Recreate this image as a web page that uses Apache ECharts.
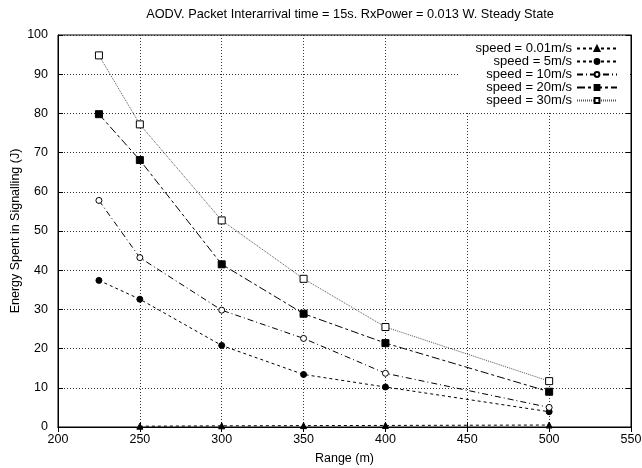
<!DOCTYPE html>
<html>
<head>
<meta charset="utf-8">
<script src="https://cdn.jsdelivr.net/npm/echarts@6/dist/echarts.min.js"></script>
<style>
html,body{margin:0;padding:0;background:#fff;}
#c{width:642px;height:468px;}
</style>
</head>
<body>
<div id="c"></div>
<script>
const titleText = 'AODV. Packet Interarrival time = 15s. RxPower = 0.013 W. Steady State';
const xName = 'Range (m)';
const yName = 'Energy Spent in Signalling (J)';
const ranges = [225, 250, 300, 350, 400, 500];
const seriesNames = ['speed = 0.01m/s', 'speed = 5m/s', 'speed = 10m/s', 'speed = 20m/s', 'speed = 30m/s'];
const speed001 = [null, 0.2, 0.3, 0.35, 0.4, 0.5];
const speed5 = [37.4, 32.6, 20.8, 13.4, 10.2, 3.9];
const speed10 = [57.8, 43.2, 29.8, 22.6, 13.7, 5.0];
const speed20 = [79.8, 68.1, 41.5, 28.9, 21.4, 9.0];
const speed30 = [94.8, 77.2, 52.7, 37.8, 25.5, 11.7];
const xTicks = {min: 200, max: 550, interval: 50};
const yTicks = {min: 0, max: 100, interval: 10};

const values = [speed001, speed5, speed10, speed20, speed30];
const styles = [
  {symbol: 'triangle', size: 6, dash: [3, 3], color: '#000', fill: '#000'},
  {symbol: 'circle', size: 6, dash: [3, 3], color: '#000', fill: '#000'},
  {symbol: 'circle', size: 6, dash: [6, 3, 1, 3], color: '#000', fill: '#fff'},
  {symbol: 'rect', size: 7, dash: [8, 3, 3, 3], color: '#000', fill: '#000'},
  {symbol: 'rect', size: 7, dash: [1, 1], color: '#555', fill: '#fff'}
];

const font = 'Liberation Sans, Arial, Helvetica, sans-serif';
const chart = echarts.init(document.getElementById('c'));
const series = values.map((vals, i) => ({
  name: seriesNames[i],
  type: 'line',
  data: ranges.map((x, j) => vals[j] == null ? [x, '-'] : [x, vals[j]]),
  symbol: styles[i].symbol,
  symbolSize: styles[i].size,
  showAllSymbol: true,
  connectNulls: false,
  lineStyle: {color: styles[i].color, width: 1, type: styles[i].dash},
  itemStyle: {color: styles[i].fill, borderColor: '#000', borderWidth: 1},
  emphasis: {disabled: true},
  animation: false,
  z: 3
}));

const tickStyle = {inside: true, length: 5, lineStyle: {color: '#000', width: 1}};
chart.setOption({
  animation: false,
  backgroundColor: '#fff',
  title: {
    text: titleText,
    left: 345, top: 3, textAlign: 'center',
    textStyle: {fontFamily: font, fontSize: 12.75, fontWeight: 'normal', color: '#000'}
  },
  legend: {
    orient: 'vertical',
    right: 12, top: 38,
    align: 'right',
    backgroundColor: '#fff',
    padding: [4, 12, 4, 16],
    itemWidth: 40, itemHeight: 6, itemGap: 0,
    textStyle: {fontFamily: font, fontSize: 13, color: '#000', lineHeight: 12.5},
    data: seriesNames
  },
  grid: {left: 58, right: 11, top: 35, bottom: 41, show: true, borderColor: '#000', borderWidth: 1, backgroundColor: 'transparent', outerBoundsMode: 'none', containLabel: false},
  xAxis: [{
    type: 'value', min: xTicks.min, max: xTicks.max, interval: xTicks.interval,
    name: xName, nameLocation: 'middle', nameGap: 25, nameMoveOverlap: false,
    nameTextStyle: {fontFamily: font, fontSize: 12.5, color: '#000'},
    axisLine: {show: true, lineStyle: {color: '#000'}},
    axisTick: tickStyle,
    axisLabel: {fontFamily: font, fontSize: 12.5, color: '#000', margin: 6},
    splitLine: {show: true, lineStyle: {color: '#333', width: 1, type: [1, 2]}}
  }, {
    type: 'value', position: 'top', min: xTicks.min, max: xTicks.max, interval: xTicks.interval,
    axisLine: {show: true, lineStyle: {color: '#000'}},
    axisTick: tickStyle, axisLabel: {show: false}, splitLine: {show: false}
  }],
  yAxis: [{
    type: 'value', min: yTicks.min, max: yTicks.max, interval: yTicks.interval,
    name: yName, nameLocation: 'middle', nameGap: 36, nameMoveOverlap: false,
    nameTextStyle: {fontFamily: font, fontSize: 12.5, color: '#000'},
    axisLine: {show: true, lineStyle: {color: '#000'}},
    axisTick: tickStyle,
    axisLabel: {fontFamily: font, fontSize: 12.5, color: '#000', margin: 10},
    splitLine: {show: true, lineStyle: {color: '#333', width: 1, type: [1, 2]}}
  }, {
    type: 'value', position: 'right', min: yTicks.min, max: yTicks.max, interval: yTicks.interval,
    axisLine: {show: true, lineStyle: {color: '#000'}},
    axisTick: tickStyle, axisLabel: {show: false}, splitLine: {show: false}
  }],
  series: series
});
</script>
</body>
</html>
